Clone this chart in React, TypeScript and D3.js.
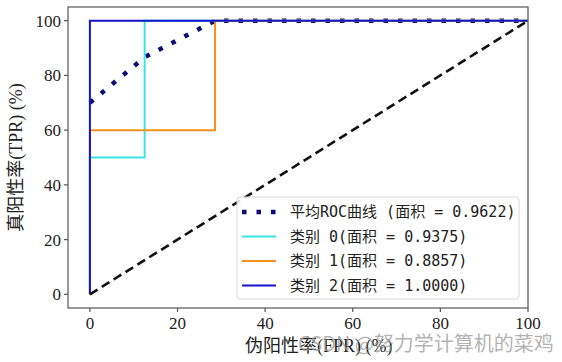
import React from "react";
import * as d3 from "d3";

// ROC data (percent)
const meanFpr = [0, 12.5, 28.57, 100];
const meanTpr = [70, 86.67, 100, 100];
const class0Fpr = [0, 0, 12.5, 12.5, 100];
const class0Tpr = [0, 50, 50, 100, 100];
const class1Fpr = [0, 0, 28.57, 28.57, 100];
const class1Tpr = [0, 60, 60, 100, 100];
const class2Fpr = [0, 0, 100];
const class2Tpr = [0, 100, 100];
const diagFpr = [0, 100];
const diagTpr = [0, 100];

const xTicks = [0, 20, 40, 60, 80, 100];
const yTicks = [0, 20, 40, 60, 80, 100];

const legendLabels = [
    "平均ROC曲线 (面积 = 0.9622)",
    "类别 0(面积 = 0.9375)",
    "类别 1(面积 = 0.8857)",
    "类别 2(面积 = 1.0000)",
];

const App: React.FC = () => {
    const width = 562;
    const height = 362;
    const left = 68;
    const right = 528;
    const top = 7;
    const bottom = 308;

    const x = d3.scaleLinear().domain([-5, 100]).range([left, right]);
    const y = d3.scaleLinear().domain([-5, 105]).range([bottom, top]);

    const line = (xs: number[], ys: number[]) =>
        d3.line<number>()
            .x((_, i) => x(xs[i]))
            .y((_, i) => y(ys[i]))(xs) as string;

    const series = [
        { xs: meanFpr, ys: meanTpr, color: "#0d0d75", width: 4.5, dash: "4.5 10" },
        { xs: class0Fpr, ys: class0Tpr, color: "#38e4e4", width: 2, dash: "" },
        { xs: class1Fpr, ys: class1Tpr, color: "#f29020", width: 2, dash: "" },
        { xs: class2Fpr, ys: class2Tpr, color: "#1414c8", width: 2, dash: "" },
    ];

    const serif = "Liberation Serif, DejaVu Serif, serif";
    const cjk = "Noto Sans CJK SC, sans-serif";
    const mono = "DejaVu Sans Mono, Noto Sans CJK SC, monospace";

    return (
        <svg width={width} height={height} style={{ position: "absolute", left: 0, top: 0, background: "#fff" }}>
            {/* lines */}
            {series.map((s, i) => (
                <path
                    key={i}
                    d={line(s.xs, s.ys)}
                    fill="none"
                    stroke={s.color}
                    strokeWidth={s.width}
                    strokeDasharray={s.dash || undefined}
                />
            ))}
            <path d={line(diagFpr, diagTpr)} fill="none" stroke="#111" strokeWidth={2.6} strokeDasharray="9 5" />

            {/* frame */}
            <rect x={left} y={top} width={right - left} height={bottom - top} fill="none" stroke="#555" strokeWidth={1.2} />

            {/* x axis */}
            {xTicks.map(t => (
                <g key={`x${t}`}>
                    <line x1={x(t)} x2={x(t)} y1={bottom} y2={bottom + 4} stroke="#555" strokeWidth={1.2} />
                    <text x={x(t)} y={bottom + 21} textAnchor="middle" fontFamily={serif} fontSize={17} fill="#222">{t}</text>
                </g>
            ))}
            {/* y axis */}
            {yTicks.map(t => (
                <g key={`y${t}`}>
                    <line x1={left - 4} x2={left} y1={y(t)} y2={y(t)} stroke="#555" strokeWidth={1.2} />
                    <text x={left - 7} y={y(t) + 6} textAnchor="end" fontFamily={serif} fontSize={17} fill="#222">{t}</text>
                </g>
            ))}

            {/* axis labels */}
            <text x={245} y={352} fontFamily={serif} fontSize={18} fill="#222">
                <tspan fontFamily={cjk}>伪阳性率</tspan>(FPR) (%)
            </text>
            <text transform={`translate(22,${(top + bottom) / 2}) rotate(-90)`} textAnchor="middle" fontFamily={serif} fontSize={18} fill="#222">
                <tspan fontFamily={cjk}>真阳性率</tspan>(TPR) (%)
            </text>

            {/* legend */}
            <rect x={237} y={197} width={282} height={102} rx={3} fill="#fff" fillOpacity={0.85} stroke="#d8d8d8" strokeWidth={1} />
            {series.map((s, i) => {
                const ly = 212 + i * 24.5;
                return (
                    <g key={`lg${i}`}>
                        <line
                            x1={242}
                            x2={276}
                            y1={ly}
                            y2={ly}
                            stroke={s.color}
                            strokeWidth={s.width}
                            strokeDasharray={s.dash || undefined}
                        />
                        <text x={290} y={ly + 5} fontFamily={mono} fontSize={15} fill="#222">{legendLabels[i]}</text>
                    </g>
                );
            })}

            {/* watermark */}
            <text x={298} y={351} fontFamily={cjk} fontSize={20} fill="#999" fillOpacity={0.75}>CSDN @努力学计算机的菜鸡</text>
        </svg>
    );
};

export default App;
